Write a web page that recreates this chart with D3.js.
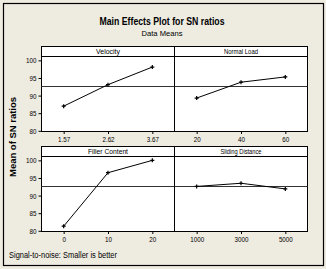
<!DOCTYPE html>
<html>
<head>
<meta charset="utf-8">
<script src="https://cdn.jsdelivr.net/npm/d3@7"></script>
<style>
  html, body { margin: 0; padding: 0; background: #EEEBE1; }
  svg { display: block; }
  text { font-family: "Liberation Sans", Arial, sans-serif; fill: #000; }
</style>
</head>
<body>
<svg id="chart" width="326" height="269"></svg>
<script>
// ---- data ----
const factors = ["Velocity", "Normal Load", "Filler Content", "Sliding Distance"];
const velocityLevels = ["1.57", "2.62", "3.67"];
const velocitySN = [87.0, 93.1, 98.1];
const loadLevels = ["20", "40", "60"];
const loadSN = [89.3, 93.8, 95.3];
const fillerLevels = ["0", "10", "20"];
const fillerSN = [81.3, 96.5, 100.0];
const distanceLevels = ["1000", "3000", "5000"];
const distanceSN = [92.6, 93.5, 91.9];
const yTicks = [80, 85, 90, 95, 100];
const yDomain = [79.8, 101.1];

const panels = [
  { name: factors[0], levels: velocityLevels, values: velocitySN, col: 0, row: 0 },
  { name: factors[1], levels: loadLevels, values: loadSN, col: 1, row: 0 },
  { name: factors[2], levels: fillerLevels, values: fillerSN, col: 0, row: 1 },
  { name: factors[3], levels: distanceLevels, values: distanceSN, col: 1, row: 1 }
];
const grandMean = d3.mean([].concat(velocitySN, loadSN, fillerSN, distanceSN));

const svg = d3.select("#chart");

// outer frame
svg.append("rect").attr("x", 3.5).attr("y", 3.5).attr("width", 320).attr("height", 262)
  .attr("fill", "#EEEBE1").attr("stroke", "#000").attr("stroke-width", 1.2);

function fit(sel, w) {
  sel.attr("textLength", w).attr("lengthAdjust", "spacingAndGlyphs");
}

// titles
svg.append("text").attr("x", 162).attr("y", 25).attr("text-anchor", "middle")
  .attr("font-size", 10.5).attr("font-weight", "bold")
  .text("Main Effects Plot for SN ratios").call(fit, 125);
svg.append("text").attr("x", 162).attr("y", 36).attr("text-anchor", "middle")
  .attr("font-size", 8).text("Data Means").call(fit, 41);
svg.append("text").attr("transform", "translate(16,137) rotate(-90)").attr("text-anchor", "middle")
  .attr("font-size", 9).attr("font-weight", "bold")
  .text("Mean of SN ratios").call(fit, 80);
svg.append("text").attr("x", 9).attr("y", 258)
  .attr("font-size", 8.5).text("Signal-to-noise: Smaller is better").call(fit, 108);

// layout
const colX = [41.5, 174.5];
const panelW = 133;
const rowTop = [46.5, 146.5];
const stripH = 10;
const dataH = 75;

const stripW = { "Velocity": 24, "Normal Load": 34, "Filler Content": 40, "Sliding Distance": 41 };

panels.forEach(p => {
  const x0 = colX[p.col];
  const top = rowTop[p.row];
  const dTop = top + stripH;
  const dBot = dTop + dataH;
  const x = d3.scalePoint().domain(p.levels).range([x0, x0 + panelW]).padding(0.5);
  const y = d3.scaleLinear().domain(yDomain).range([dBot, dTop]);
  const g = svg.append("g");

  // white panel + strip
  g.append("rect").attr("x", x0).attr("y", top).attr("width", panelW).attr("height", stripH + dataH)
    .attr("fill", "#fff").attr("stroke", "#000").attr("stroke-width", 1);
  g.append("line").attr("x1", x0).attr("x2", x0 + panelW).attr("y1", dTop).attr("y2", dTop)
    .attr("stroke", "#000").attr("stroke-width", 1);
  g.append("text").attr("x", x0 + panelW / 2).attr("y", top + 7.8).attr("text-anchor", "middle")
    .attr("font-size", 7.5).text(p.name).call(fit, stripW[p.name]);

  // reference line (grand mean)
  g.append("line").attr("x1", x0).attr("x2", x0 + panelW)
    .attr("y1", Math.round(y(grandMean)) + 0.5).attr("y2", Math.round(y(grandMean)) + 0.5)
    .attr("stroke", "#333").attr("stroke-width", 1);

  // x axis
  const xa = g.append("g").attr("transform", `translate(0,${dBot})`)
    .call(d3.axisBottom(x).tickSize(2.5).tickSizeOuter(0));
  xa.select(".domain").remove();
  xa.selectAll("text").attr("font-size", 8).attr("dy", "0.72em").attr("y", 5)
    .attr("font-family", "Liberation Sans, Arial, sans-serif").attr("fill", "#000")
    .each(function () { const l = this.getComputedTextLength(); d3.select(this).call(fit, l * 0.78); });
  xa.selectAll("line").attr("stroke", "#000");

  // y axis on left column
  if (p.col === 0) {
    const ya = g.append("g").attr("transform", `translate(${x0},0)`)
      .call(d3.axisLeft(y).tickValues(yTicks).tickSize(3).tickSizeOuter(0));
    ya.select(".domain").remove();
    ya.selectAll("text").attr("font-size", 8).attr("x", -5)
      .attr("font-family", "Liberation Sans, Arial, sans-serif").attr("fill", "#000")
      .each(function () { const l = this.getComputedTextLength(); d3.select(this).call(fit, l * 0.78); });
    ya.selectAll("line").attr("stroke", "#000");
  }

  // data line
  const pts = p.levels.map((lv, i) => [x(lv), y(p.values[i])]);
  g.append("path").attr("d", d3.line()(pts)).attr("fill", "none")
    .attr("stroke", "#000").attr("stroke-width", 1);
  g.selectAll(".mk").data(pts).join("path").attr("class", "mk")
    .attr("d", d => `M${d[0] - 2},${d[1]}H${d[0] + 2}M${d[0]},${d[1] - 2}V${d[1] + 2}`)
    .attr("stroke", "#000").attr("stroke-width", 1.2);
});
</script>
</body>
</html>
